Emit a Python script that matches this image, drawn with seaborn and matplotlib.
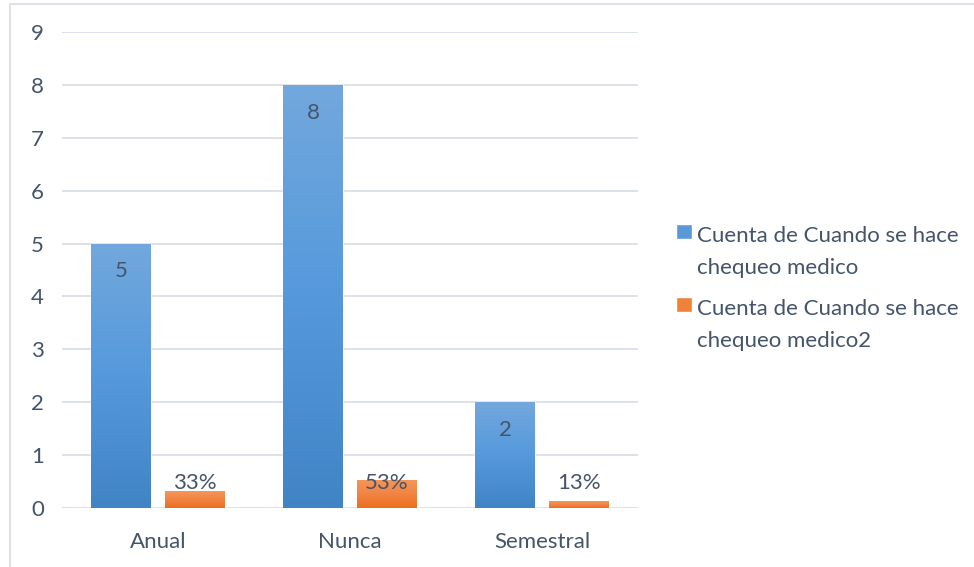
import numpy as np
import pandas as pd
import matplotlib
matplotlib.use("Agg")
import matplotlib.pyplot as plt
import seaborn as sns
from matplotlib.colors import LinearSegmentedColormap
from matplotlib.lines import Line2D
from matplotlib.patches import Patch, Rectangle
from matplotlib.legend_handler import HandlerPatch

# ---- data ----
categories = ["Anual", "Nunca", "Semestral"]
counts = [5, 8, 2]
shares = [0.33, 0.53, 0.13]
series_names = [
    "Cuenta de Cuando se hace\nchequeo medico",
    "Cuenta de Cuando se hace\nchequeo medico2",
]
y_ticks = list(range(0, 10))

df = pd.DataFrame({
    "categoria": categories * 2,
    "valor": counts + shares,
    "serie": [series_names[0]] * len(categories) + [series_names[1]] * len(categories),
})

# ---- style ----
TEXT = "#44546a"
GRID = "#dde1e8"
BLUE_TOP, BLUE_BOT = "#72a8dd", "#4184c6"
ORANGE_TOP, ORANGE_BOT = "#f4975c", "#ec6e1e"
BLUE_MID, ORANGE_MID = "#5a99d6", "#f08138"

sns.set_theme(style="white")
plt.rcParams["font.family"] = ["Lato", "DejaVu Sans"]
FS = 16

W, H = 974, 567
fig = plt.figure(figsize=(W / 100, H / 100), dpi=100)
ax = fig.add_axes([62 / W, 1 - 508 / H, (638 - 62) / W, (508 - 32) / H])

sns.barplot(data=df, x="categoria", y="valor", hue="serie",
            palette=[BLUE_MID, ORANGE_MID], width=0.77, gap=0.19,
            ax=ax, legend=False, saturation=1)

# vertical gradient fill inside every bar
grads = [
    LinearSegmentedColormap.from_list("azul", [BLUE_BOT, "#5599dc", BLUE_TOP]),
    LinearSegmentedColormap.from_list("naranja", [ORANGE_BOT, "#f28544", ORANGE_TOP]),
]
ramp = np.linspace(0, 1, 256).reshape(-1, 1)
for cont, cmap in zip(ax.containers, grads):
    for bar in cont:
        x0, w, h = bar.get_x(), bar.get_width(), bar.get_height()
        im = ax.imshow(ramp, cmap=cmap, origin="lower", aspect="auto",
                       extent=[x0, x0 + w, 0, h], zorder=bar.get_zorder() + 0.1,
                       interpolation="bilinear")
        im.set_clip_path(bar)

# data labels
for bar, v in zip(ax.containers[0], counts):
    ax.annotate(f"{v}", xy=(bar.get_x() + bar.get_width() / 2, v),
                xytext=(0, -20), textcoords="offset points",
                ha="center", va="center", fontsize=FS, color=TEXT, zorder=5)
for bar, v in zip(ax.containers[1], shares):
    ax.annotate(f"{v:.0%}", xy=(bar.get_x() + bar.get_width() / 2, 0),
                xytext=(0, 18), textcoords="offset points",
                ha="center", va="center", fontsize=FS, color=TEXT, zorder=5)

ax.set_xlim(-0.5, len(categories) - 0.5)
ax.set_ylim(0, 9)
ax.set_yticks(y_ticks)
ax.yaxis.grid(True, color=GRID, linewidth=1.4)
ax.set_axisbelow(True)
for s in ax.spines.values():
    s.set_visible(False)
ax.set_xlabel("")
ax.set_ylabel("")
ax.tick_params(axis="y", length=0, pad=13, labelsize=FS, labelcolor=TEXT)
ax.tick_params(axis="x", length=0, pad=17, labelsize=FS, labelcolor=TEXT)


# legend: square aligned with first text line
def top_square(legend, orig_handle, xdescent, ydescent, width, height, fontsize):
    s = 0.68 * fontsize
    return Rectangle((xdescent + width - s, height - s - 0.3 * fontsize), s, s)


handles = [Patch(facecolor=BLUE_MID), Patch(facecolor=ORANGE_MID)]
leg = fig.legend(handles, series_names, loc="upper left",
                 bbox_to_anchor=(676 / W, 1 - 226 / H), frameon=False,
                 fontsize=FS, handlelength=0.7, handleheight=2.6,
                 handletextpad=0.25, labelspacing=0.95, labelcolor=TEXT,
                 borderaxespad=0, borderpad=0,
                 handler_map={Patch: HandlerPatch(patch_func=top_square)})
for t in leg.get_texts():
    t.set_linespacing(1.75)

# chart area border (left and top edges)
fig.add_artist(Line2D([10 / W, 10 / W], [0, 1 - 4 / H], color=GRID, lw=1.5))
fig.add_artist(Line2D([10 / W, 1], [1 - 4 / H, 1 - 4 / H], color=GRID, lw=1.5))

fig.savefig("out.png", dpi=100)
